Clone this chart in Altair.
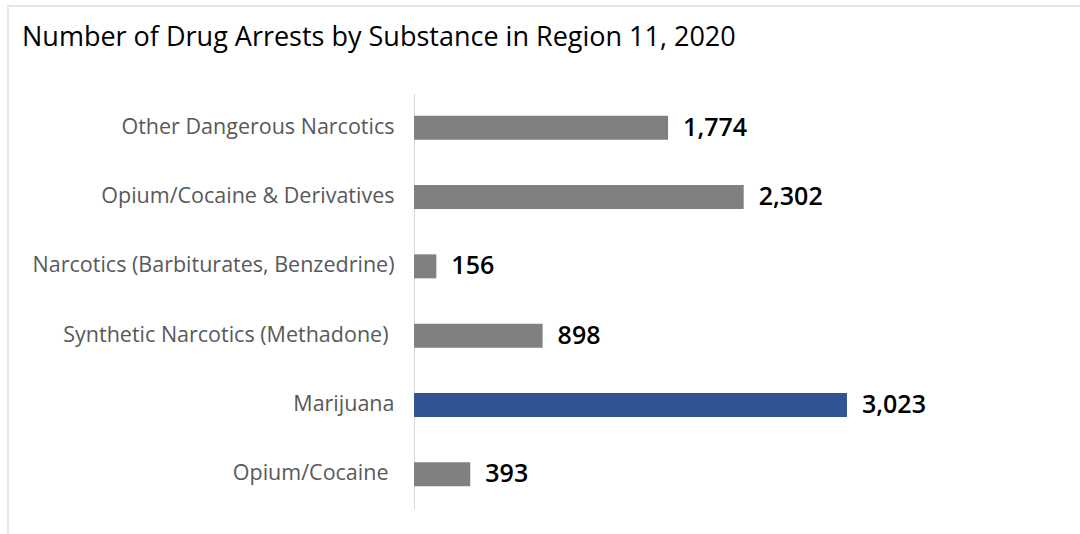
import altair as alt
import pandas as pd

categories = [
    "Other Dangerous Narcotics",
    "Opium/Cocaine & Derivatives",
    "Narcotics (Barbiturates, Benzedrine)",
    "Synthetic Narcotics (Methadone)",
    "Marijuana",
    "Opium/Cocaine",
]
arrests = [1774, 2302, 156, 898, 3023, 393]
highlight = [False, False, False, False, True, False]

df = pd.DataFrame({"substance": categories, "arrests": arrests, "hl": highlight})

W, H = 666, 416
PAD_L, PAD_T = 414, 93

y_enc = alt.Y(
    "substance:N",
    sort=categories,
    scale=alt.Scale(paddingInner=0.654, paddingOuter=0.327),
    axis=alt.Axis(
        title=None,
        ticks=False,
        domainColor="#d9d9d9",
        domainWidth=1,
        labelColor="#595959",
        labelFont="Open Sans",
        labelFontSize=21.5,
        labelPadding={
            "condition": {
                "test": "datum.value == 'Synthetic Narcotics (Methadone)' || datum.value == 'Opium/Cocaine'",
                "value": 26,
            },
            "value": 20,
        },
        labelLimit=420,
    ),
)
x_enc = alt.X("arrests:Q", scale=alt.Scale(domain=[0, 4650]), axis=None)

bars = alt.Chart(df).mark_bar().encode(
    x=x_enc,
    y=y_enc,
    color=alt.Color(
        "hl:N",
        scale=alt.Scale(domain=[False, True], range=["#808080", "#2F5597"]),
        legend=None,
    ),
)

labels = alt.Chart(df).mark_text(
    align="left", baseline="middle", dx=15, font="Open Sans", fontSize=25,
    fontWeight=600, color="#000000",
).encode(
    x=x_enc,
    y=alt.Y("substance:N", sort=categories),
    text=alt.Text("arrests:Q", format=","),
)

border = alt.Chart(df).mark_rect(
    fill=None, stroke="#e6e6e6", strokeWidth=1.5
).encode(
    x=alt.value(-406), x2=alt.value(W + 20), y=alt.value(-87), y2=alt.value(H + 60)
)

chart = alt.layer(border, bars, labels).properties(
    width=W,
    height=H,
    autosize=alt.AutoSizeParams(type="none"),
    padding={"left": PAD_L, "top": PAD_T, "right": 0, "bottom": 534 - PAD_T - H},
    title=alt.TitleParams(
        "Number of Drug Arrests by Substance in Region 11, 2020",
        anchor="start",
        frame="group",
        font="Open Sans",
        fontSize=27,
        fontWeight="normal",
        color="#000000",
        dx=-392,
        dy=51,
    ),
).configure(background="white").configure_view(strokeWidth=0)

chart.save("out.html", embed_options={"renderer": "svg", "actions": False})
